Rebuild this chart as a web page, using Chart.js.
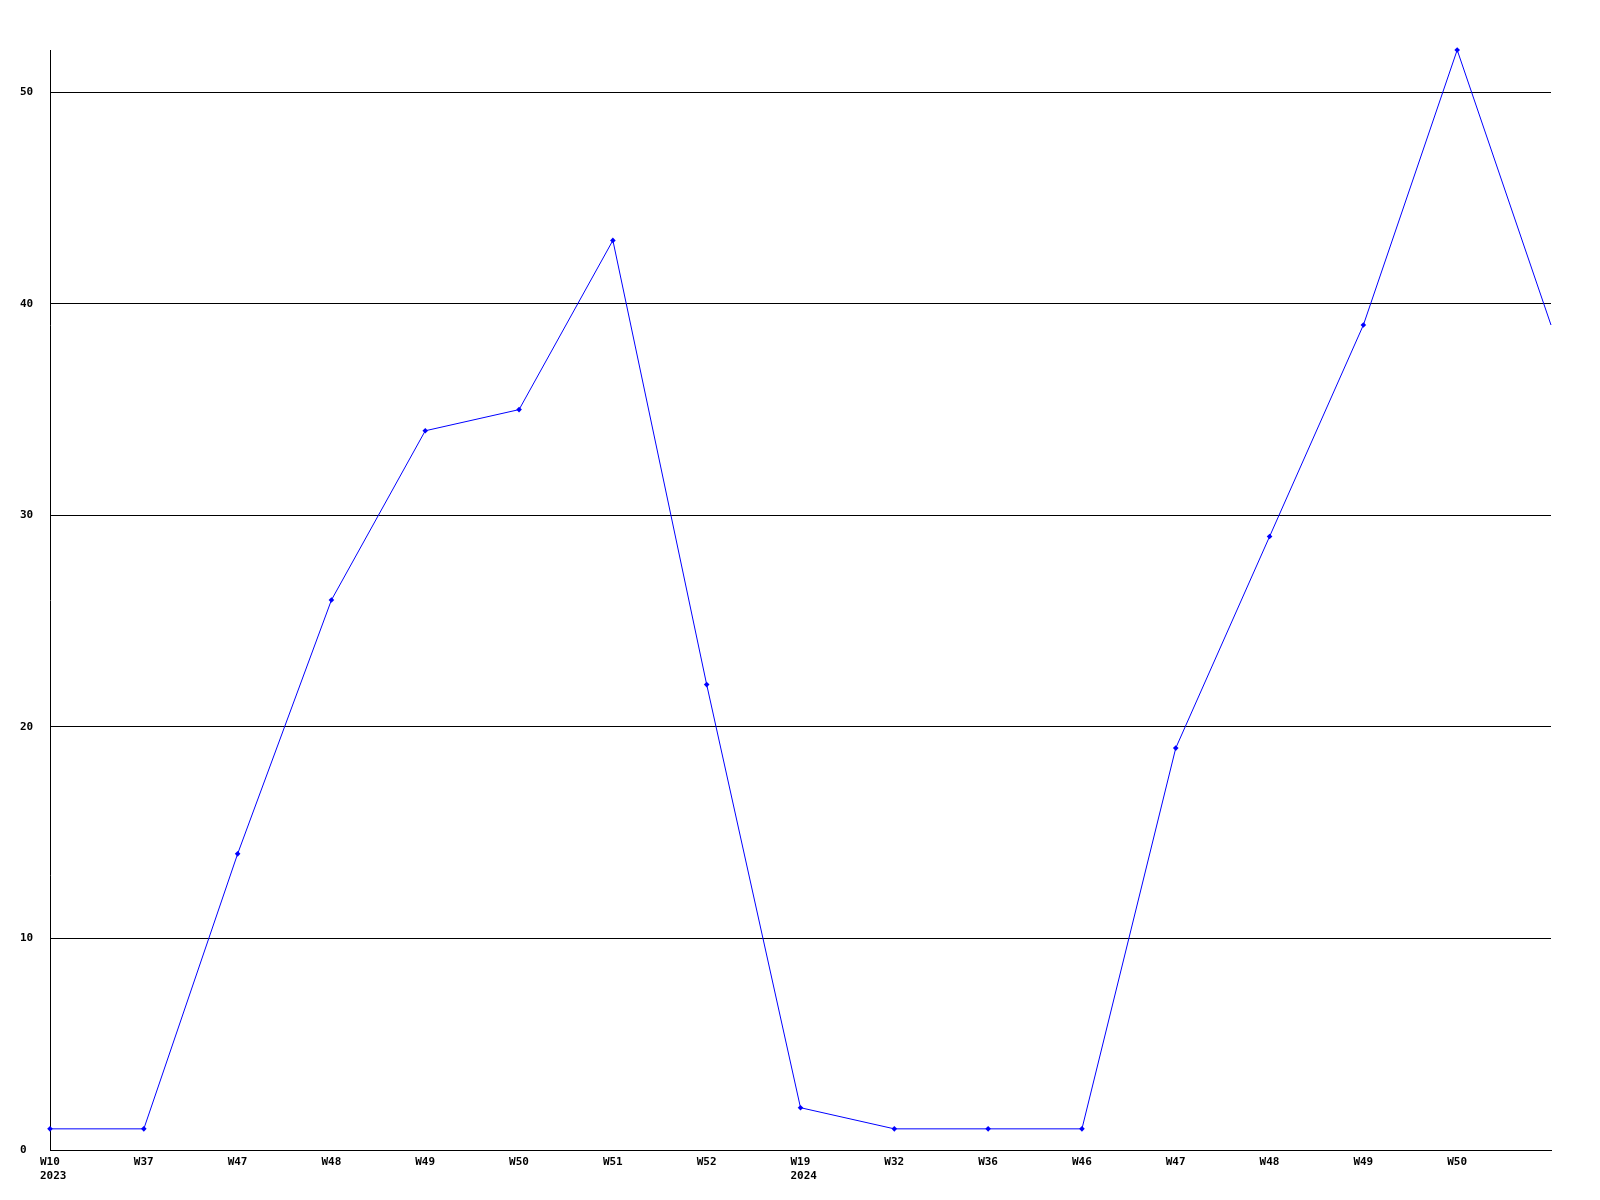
<!DOCTYPE html>
<html>
<head>
<meta charset="utf-8">
<script src="https://cdn.jsdelivr.net/npm/chart.js@4/dist/chart.umd.min.js"></script>
<style>
  html, body { margin: 0; padding: 0; background: #fff; }
  #wrap { width: 1600px; height: 1200px; }
</style>
</head>
<body>
<div id="wrap"><canvas id="myChart"></canvas></div>
<script>
const weeks = ['W10', 'W37', 'W47', 'W48', 'W49', 'W50', 'W51', 'W52',
  'W19', 'W32', 'W36', 'W46', 'W47', 'W48', 'W49', 'W50', ''];
const years = ['2023', '', '', '', '', '', '', '', '2024', '', '', '', '', '', '', '', ''];
const counts = [1, 1, 14, 26, 34, 35, 43, 22, 2, 1, 1, 1, 19, 29, 39, 52, 39];
const yTicks = [0, 10, 20, 30, 40, 50];
const yMax = 52;

const labels = weeks.map((w, i) => years[i] ? [w, years[i]] : w);

const tickFont = { family: 'DejaVu Sans Mono', size: 11, weight: 'bold' };

// last point sits on the right edge, no marker there
const radii = counts.map((v, i) => i === counts.length - 1 ? 0 : 2.8);

const ctx = document.getElementById('myChart').getContext('2d');
const chart = new Chart(ctx, {
  type: 'line',
  data: {
    labels: labels,
    datasets: [{
      data: counts,
      borderColor: '#0000ff',
      backgroundColor: '#0000ff',
      borderWidth: 1,
      tension: 0,
      fill: false,
      clip: false,
      pointStyle: 'rectRot',
      pointRadius: radii,
      pointBorderWidth: 0
    }]
  },
  options: {
    responsive: true,
    maintainAspectRatio: false,
    animation: false,
    layout: { padding: { left: 20, right: 49, top: 50, bottom: 0 } },
    plugins: { legend: { display: false }, tooltip: { enabled: false } },
    scales: {
      x: {
        offset: false,
        grid: { display: false, drawTicks: false },
        border: { display: true, color: '#000', width: 1 },
        ticks: {
          color: '#000', font: tickFont, align: 'start', labelOffset: -10,
          maxRotation: 0, autoSkip: false, padding: 6
        },
        afterFit: s => { s.height = 50; }
      },
      y: {
        min: 0,
        max: yMax,
        grid: { color: '#000', lineWidth: 1, drawTicks: false },
        border: { display: true, color: '#000', width: 1 },
        ticks: { color: '#000', font: tickFont, crossAlign: 'far', padding: 0 },
        afterBuildTicks: s => { s.ticks = yTicks.map(v => ({ value: v })); },
        afterFit: s => { s.width = 30; }
      }
    }
  }
});
</script>
</body>
</html>
